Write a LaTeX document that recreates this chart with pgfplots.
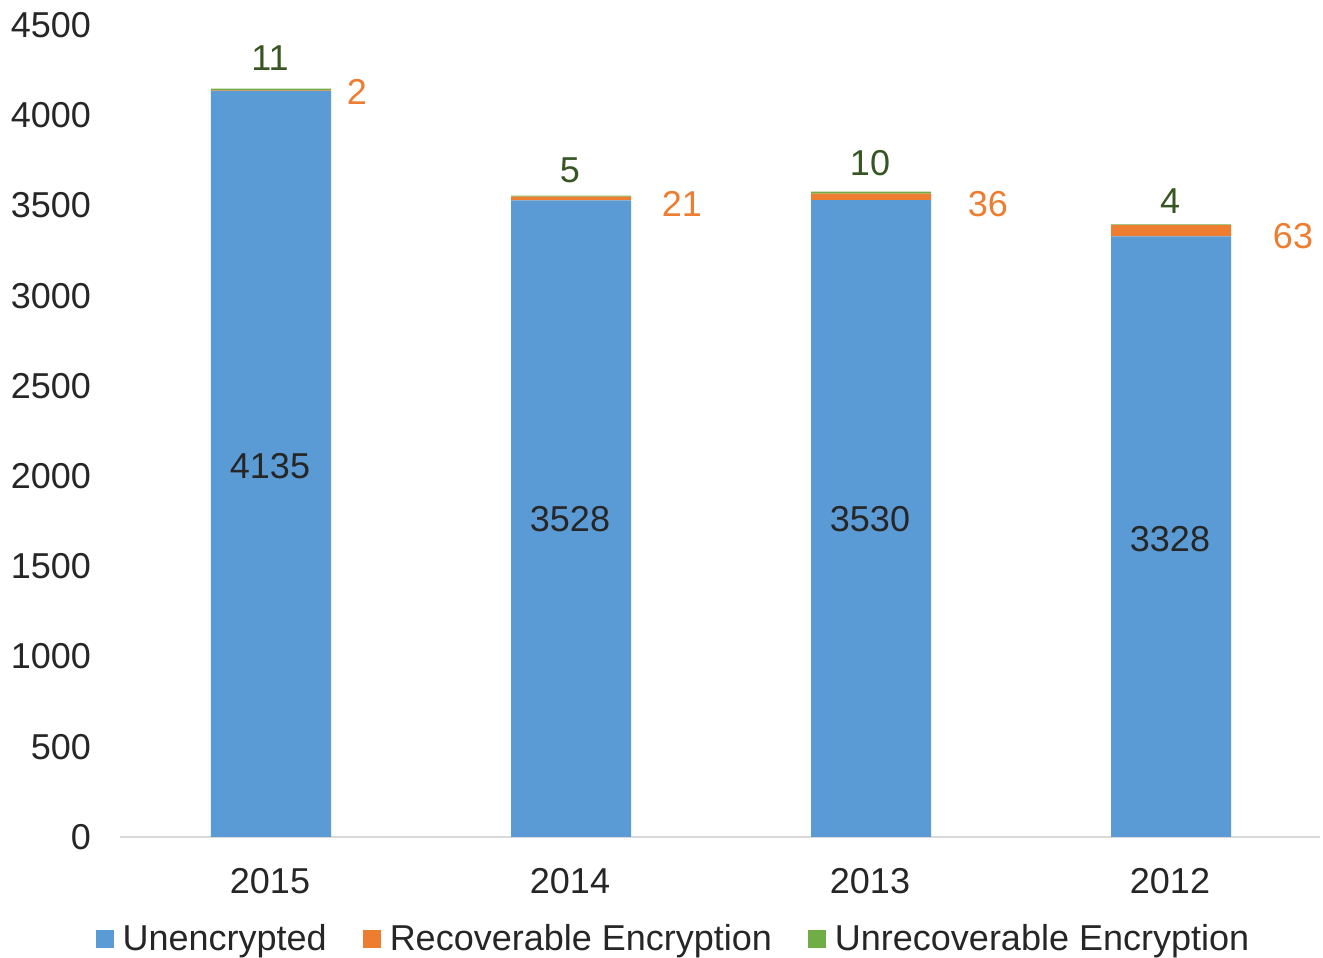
\documentclass[border=0pt]{standalone}
\usepackage{pgfplots}
\pgfplotsset{compat=1.18}
\usepackage{pgfplotstable}
\usepackage{fontspec}
\setmainfont{Liberation Sans}
\definecolor{cblue}{HTML}{5B9BD5}
\definecolor{corange}{HTML}{ED7D31}
\definecolor{cgreen}{HTML}{70AD47}
\definecolor{lgreen}{HTML}{375623}
\definecolor{ctext}{HTML}{262626}
\definecolor{caxis}{HTML}{D9D9D9}

\pgfplotstableread{
x unenc recov unrec
0 4135 2 11
1 3528 21 5
2 3530 36 10
3 3328 63 4
}\datatable

\pgfplotstableread{
x y lab
0 2056 4135
1 1762 3528
2 1762 3530
3 1651 3328
}\bluelab

\pgfplotstableread{
x y lab
0.29 4129 2
1.373 3508 21
2.393 3508 36
3.41 3331 63
}\orangelab

\pgfplotstableread{
x y lab
0 4317 11
1 3696 5
2 3735 10
3 3525 4
}\greenlab

\begin{document}
\begin{tikzpicture}[font=\fontsize{18}{21}\selectfont]
\pgfplotsset{
  base/.style={
    scale only axis, width=600pt, height=406pt,
    xmin=-0.5, xmax=3.5, ymin=0, ymax=4500,
  }
}
\begin{axis}[
  base,
  ybar stacked, bar width=60pt, bar shift=0.5pt,
  axis x line*=bottom, axis y line*=left,
  x axis line style={draw=caxis, line width=1pt},
  y axis line style={draw=none},
  tick style={draw=none}, major tick length=0pt,
  xtick={0,1,2,3}, xticklabels={2015,2014,2013,2012},
  ytick={0,500,...,4500},
  scaled y ticks=false,
  /pgf/number format/1000 sep={},
  /pgf/number format/assume math mode=true,
  tick label style={font=\fontsize{18}{21}\selectfont, text=ctext},
  yticklabel style={xshift=-11pt},
  xticklabel style={yshift=-12pt},
  legend style={at={(0.462,-0.126)}, anchor=center, draw=none, fill=none,
    legend columns=3, font=\fontsize{18}{21}\selectfont, text=ctext,
    /tikz/every even column/.append style={column sep=16pt},
    /tikz/every odd column/.append style={column sep=2.5pt},
    inner sep=0pt},
  legend image code/.code={\fill[#1] (0pt,-4.5pt) rectangle (9pt,4.5pt);},
  legend cell align=left,
]
\addplot[fill=cblue, draw=none] table[x=x, y=unenc]{\datatable};
\addplot[fill=corange, draw=none] table[x=x, y=recov]{\datatable};
\addplot[fill=cgreen, draw=none] table[x=x, y=unrec]{\datatable};
\legend{Unencrypted, Recoverable Encryption, Unrecoverable Encryption}
\end{axis}
\begin{axis}[
  base, hide axis,
  nodes near coords, point meta=explicit symbolic,
]
\addplot[draw=none, mark=none, nodes near coords style={anchor=center, text=ctext, font=\fontsize{18}{21}\selectfont}] table[x=x, y=y, meta=lab]{\bluelab};
\addplot[draw=none, mark=none, nodes near coords style={anchor=center, text=corange, font=\fontsize{18}{21}\selectfont}] table[x=x, y=y, meta=lab]{\orangelab};
\addplot[draw=none, mark=none, nodes near coords style={anchor=center, text=lgreen, font=\fontsize{18}{21}\selectfont}] table[x=x, y=y, meta=lab]{\greenlab};
\end{axis}
\pgfresetboundingbox
\path (-60pt,-60.5pt) rectangle (601.5pt,418.5pt);
\end{tikzpicture}
\end{document}
